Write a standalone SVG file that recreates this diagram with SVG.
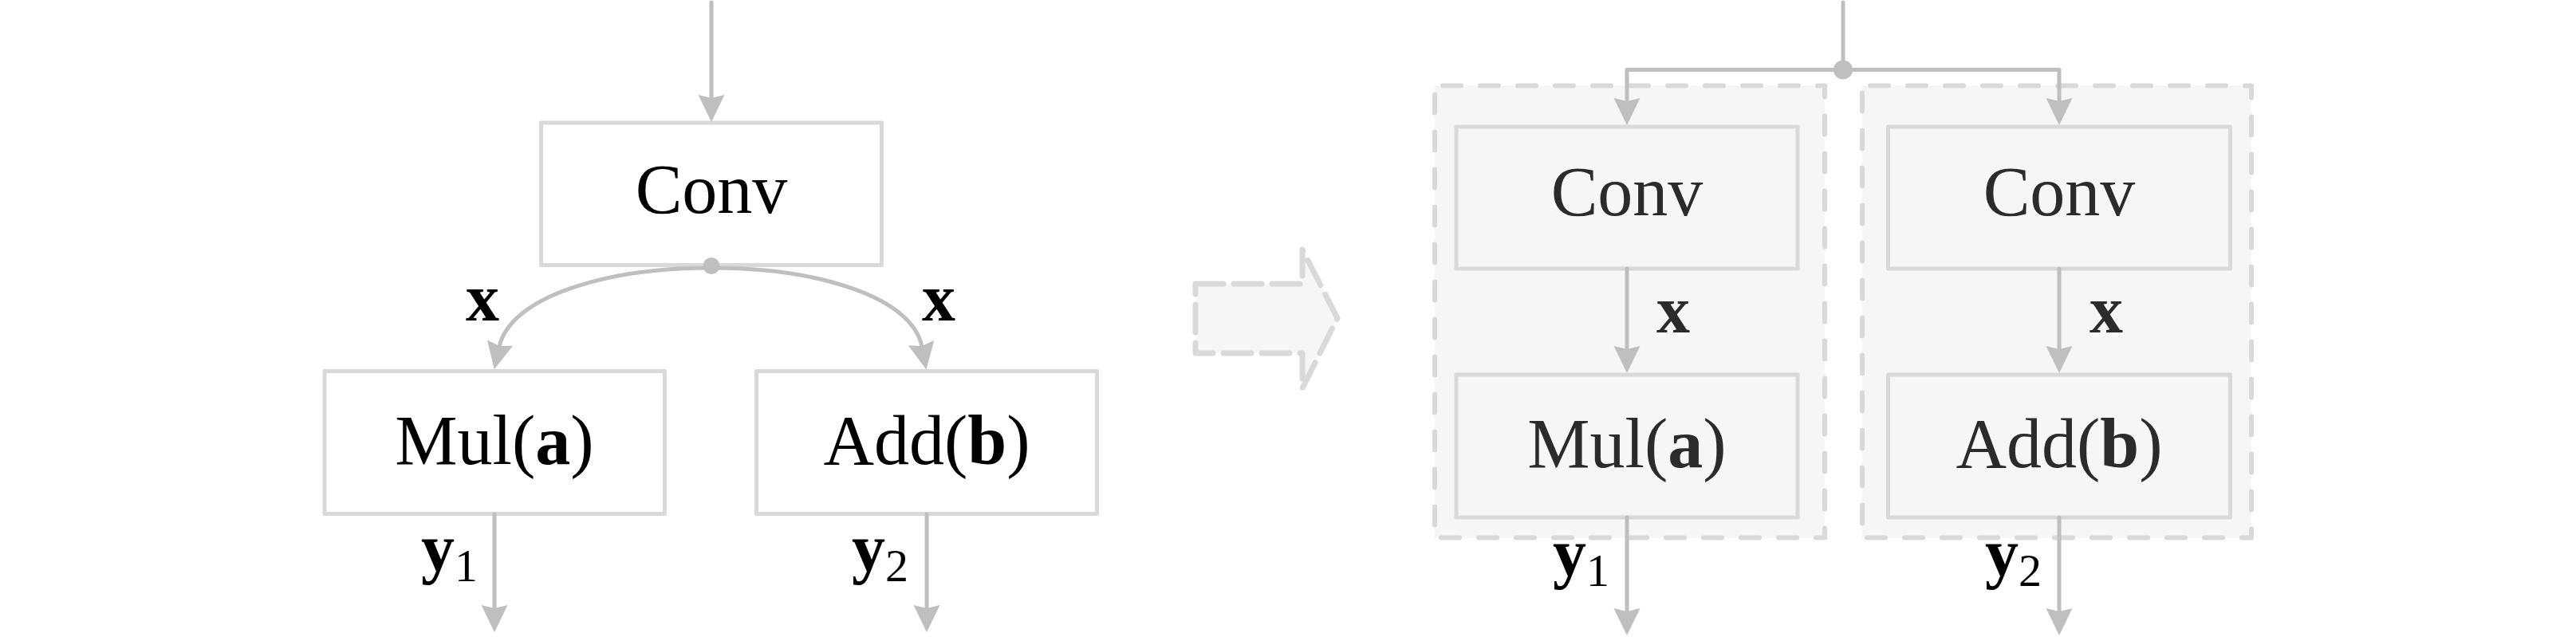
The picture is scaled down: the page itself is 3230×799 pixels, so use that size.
<svg xmlns="http://www.w3.org/2000/svg" width="3230" height="799" viewBox="0 0 3230 799">
  <style>
    .box { fill: #ffffff; stroke: #d9d9d9; stroke-width: 5; stroke-linejoin: round; }
    .boxg { fill: #f6f6f6; stroke: #d9d9d9; stroke-width: 5; stroke-linejoin: round; }
    .cont { fill: #f6f6f6; stroke: #d9d9d9; stroke-width: 6; stroke-dasharray: 23 24; stroke-dashoffset: -10; stroke-linecap: round; stroke-linejoin: round; }
    .conn { fill: none; stroke: #bfbfbf; stroke-width: 5; stroke-linecap: round; stroke-linejoin: round; }
    .arr { marker-end: url(#ah); }
    .dot { fill: #bfbfbf; }
    .lbl { font-family: "Liberation Serif", "Times New Roman", serif; font-size: 88px; fill: #000000; }
    .lblg { font-family: "Liberation Serif", "Times New Roman", serif; font-size: 88px; fill: #2b2b2b; }
    .var { font-family: "Liberation Serif", "Times New Roman", serif; font-size: 84px; font-weight: bold; fill: #000000; }
    .varg { font-family: "Liberation Serif", "Times New Roman", serif; font-size: 84px; font-weight: bold; fill: #2b2b2b; }
    .sub { font-family: "Liberation Serif", "Times New Roman", serif; font-size: 58px; font-weight: normal; }
    .big { fill: #f6f6f6; stroke: #d9d9d9; stroke-width: 7; stroke-dasharray: 35 13; stroke-linecap: round; stroke-linejoin: round; }
  </style>
  <defs>
    <marker id="ah" markerUnits="userSpaceOnUse" markerWidth="60" markerHeight="60" refX="0" refY="0" orient="auto" overflow="visible">
      <path d="M29,0 L-5,-16.5 L-1,0 L-5,16.5 Z" fill="#bfbfbf"/>
    </marker>
  </defs>

  <!-- Left diagram -->
  <g id="node-conv-left">
    <rect class="box" x="678.5" y="154" width="427" height="178.5"/>
    <text class="lbl" x="892" y="267" text-anchor="middle">Conv</text>
  </g>
  <g id="node-mul-left">
    <rect class="box" x="407" y="465.5" width="426.5" height="179"/>
    <text class="lbl" x="620" y="582" text-anchor="middle">Mul(<tspan font-weight="bold">a</tspan>)</text>
  </g>
  <g id="node-add-left">
    <rect class="box" x="948.5" y="465.5" width="427" height="179"/>
    <text class="lbl" x="1162" y="582" text-anchor="middle">Add(<tspan font-weight="bold">b</tspan>)</text>
  </g>

  <!-- Transformation arrow -->
  <g id="transform-arrow">
    <path class="big" d="M1499,356 L1633,356 L1633,313 L1677,399 L1633,487 L1633,443 L1499,443 Z"/>
  </g>

  <!-- Right diagram containers -->
  <g id="group-left">
    <rect class="cont" x="1799" y="107.5" width="489" height="567"/>
    <g id="node-conv-r1">
      <rect class="boxg" x="1826" y="159" width="428" height="178"/>
      <text class="lblg" x="2040" y="270" text-anchor="middle">Conv</text>
    </g>
    <g id="node-mul-r">
      <rect class="boxg" x="1826" y="470" width="428" height="179"/>
      <text class="lblg" x="2040" y="586" text-anchor="middle">Mul(<tspan font-weight="bold">a</tspan>)</text>
    </g>
  </g>
  <g id="group-right">
    <rect class="cont" x="2335" y="107.5" width="488" height="567"/>
    <g id="node-conv-r2">
      <rect class="boxg" x="2367.5" y="159" width="429" height="178"/>
      <text class="lblg" x="2582" y="270" text-anchor="middle">Conv</text>
    </g>
    <g id="node-add-r">
      <rect class="boxg" x="2367.5" y="470" width="429" height="179"/>
      <text class="lblg" x="2582" y="586" text-anchor="middle">Add(<tspan font-weight="bold">b</tspan>)</text>
    </g>
  </g>

  <!-- Connectors -->
  <g id="connectors">
    <!-- left diagram -->
    <path class="conn arr" d="M892,3 L892,124"/>
    <path class="conn arr" d="M892,336 C760,336 640,372 626,435"/>
    <path class="conn arr" d="M892,336 C1024,336 1144,372 1156,435"/>
    <circle class="dot" cx="892" cy="333.5" r="10.5"/>
    <path class="conn arr" d="M620,645 L620,764"/>
    <path class="conn arr" d="M1162,645 L1162,764"/>
    <!-- right diagram -->
    <path class="conn" d="M2311,3 L2311,87.5"/>
    <path class="conn arr" d="M2311,87.5 L2040,87.5 L2040,128"/>
    <path class="conn arr" d="M2311,87.5 L2582,87.5 L2582,128"/>
    <circle class="dot" cx="2311" cy="87.5" r="12"/>
    <path class="conn arr" d="M2040,337 L2040,439"/>
    <path class="conn arr" d="M2582,337 L2582,439"/>
    <path class="conn arr" d="M2040,649 L2040,768"/>
    <path class="conn arr" d="M2582,649 L2582,768"/>
  </g>

  <!-- Edge labels -->
  <g id="labels">
    <text class="var" x="584" y="402">x</text>
    <text class="var" x="1156" y="402">x</text>
    <text class="var" x="528" y="716">y<tspan class="sub" dy="13">1</tspan></text>
    <text class="var" x="1068" y="716">y<tspan class="sub" dy="13">2</tspan></text>
    <text class="varg" x="2077" y="417">x</text>
    <text class="varg" x="2620" y="417">x</text>
    <text class="var" x="1947" y="722">y<tspan class="sub" dy="13">1</tspan></text>
    <text class="var" x="2489" y="722">y<tspan class="sub" dy="13">2</tspan></text>
  </g>
</svg>
